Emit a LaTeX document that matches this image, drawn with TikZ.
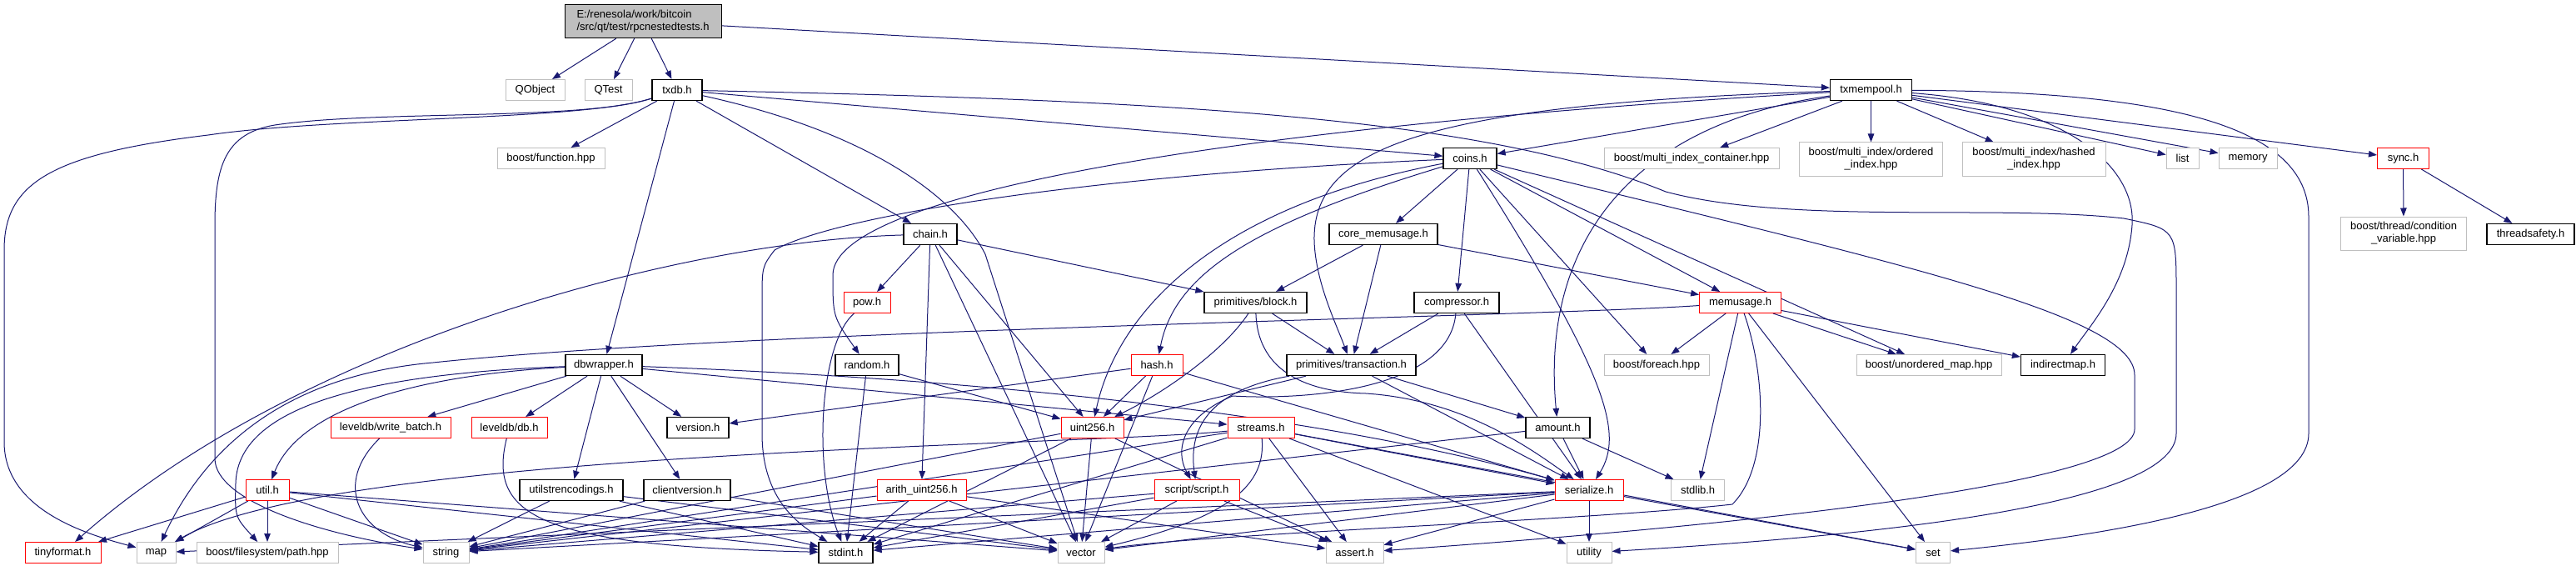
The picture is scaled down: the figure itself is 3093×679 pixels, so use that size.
\documentclass[tikz,border=0pt]{standalone}
\usepackage{fontspec}
\setmainfont{Liberation Sans}
\usepackage{tikz}
\usetikzlibrary{arrows.meta, backgrounds}
\definecolor{edgeblue}{RGB}{25,25,112}
\definecolor{extgray}{RGB}{191,191,191}

\begin{document}
\begin{tikzpicture}[x=1pt, y=-1pt,
  box/.style={rectangle, fill=white, inner sep=0pt, minimum height=25pt, font=\fontsize{13}{15}\selectfont},
  doc/.style={box, draw=black, line width=1.3pt, minimum width=#1pt},
  ext/.style={box, draw=extgray, line width=1pt, minimum width=#1pt},
  trunc/.style={box, draw=red, line width=1pt, minimum width=#1pt},
  twoline/.style={minimum height=40pt, align=center},
  inc/.style={color=edgeblue, line width=1pt, -{Triangle[length=10pt, width=7.5pt]}}]
\useasboundingbox (0,0) rectangle (3093,679);

% File at the top
\node[doc=188, fill=extgray, line width=1pt, minimum height=40pt, align=left] (root) at (772,25.7)
  {E:/renesola/work/bitcoin\\/src/qt/test/rpcnestedtests.h};
% Row 1
\node[ext=71] (qobject) at (642.5,108) {QObject};
\node[ext=57] (qtest) at (730.5,108) {QTest};
\node[doc=60] (txdb) at (813,108) {txdb.h};
\node[doc=98] (txmempool) at (2246.5,108) {txmempool.h};
% Row 2
\node[ext=129] (boostfunction) at (661.5,190) {boost/function.hpp};
\node[doc=64] (coins) at (1765,190) {coins.h};
\node[ext=210] (multiindex) at (2031,190) {boost/multi\_index\_container.hpp};
\node[ext=172, twoline] (orderedindex) at (2246.5,191) {boost/multi\_index/ordered\\\_index.hpp};
\node[ext=172, twoline] (hashedindex) at (2442,191) {boost/multi\_index/hashed\\\_index.hpp};
\node[ext=39] (list) at (2620.6,190) {list};
\node[ext=70] (memory) at (2699,190) {memory};
\node[trunc=62] (sync) at (2885.5,190) {sync.h};
% Row 3
\node[doc=64] (chain) at (1117,281) {chain.h};
\node[doc=130] (corememusage) at (1661,281) {core\_memusage.h};
\node[ext=151, twoline] (condvar) at (2886,280) {boost/thread/condition\\\_variable.hpp};
\node[doc=105] (threadsafety) at (3038.5,281) {threadsafety.h};
% Row 4
\node[trunc=56] (pow) at (1041,363) {pow.h};
\node[doc=123] (block) at (1507.5,363) {primitives/block.h};
\node[doc=102] (compressor) at (1749,363) {compressor.h};
\node[trunc=98] (memusage) at (2089.6,363) {memusage.h};
% Row 5
\node[doc=92] (dbwrapper) at (725,438) {dbwrapper.h};
\node[doc=76] (random) at (1041,438) {random.h};
\node[trunc=62] (hash) at (1389,438) {hash.h};
\node[doc=155] (transaction) at (1622.5,438) {primitives/transaction.h};
\node[ext=126] (foreach) at (1989,438) {boost/foreach.hpp};
\node[ext=174] (unorderedmap) at (2316,438) {boost/unordered\_map.hpp};
\node[doc=101] (indirectmap) at (2477,438) {indirectmap.h};
% Row 6
\node[trunc=144] (writebatch) at (469,513) {leveldb/write\_batch.h};
\node[trunc=91] (leveldb) at (611.5,513) {leveldb/db.h};
\node[doc=74] (version) at (838,513) {version.h};
\node[trunc=75] (uint) at (1311.5,513) {uint256.h};
\node[trunc=80] (streams) at (1514,513) {streams.h};
\node[doc=77] (amount) at (1870.5,513) {amount.h};
% Row 7
\node[trunc=52] (util) at (321,588) {util.h};
\node[doc=124] (utilstr) at (686,588) {utilstrencodings.h};
\node[doc=104] (clientversion) at (825,588) {clientversion.h};
\node[trunc=107] (arith) at (1106.5,588) {arith\_uint256.h};
\node[trunc=102] (script) at (1437,588) {script/script.h};
\node[trunc=82] (serialize) at (1908,588) {serialize.h};
\node[ext=64] (stdlib) at (2038.6,588) {stdlib.h};
% Row 8 (system headers)
\node[trunc=91] (tinyformat) at (75.5,663) {tinyformat.h};
\node[ext=47] (map) at (187.5,663) {map};
\node[ext=170] (path) at (321,663) {boost/filesystem/path.hpp};
\node[ext=55] (string) at (535.5,663) {string};
\node[doc=65] (stdint) at (1015.5,663) {stdint.h};
\node[ext=56] (vector) at (1298,663) {vector};
\node[ext=69] (assert) at (1626.5,663) {assert.h};
\node[ext=54] (utility) at (1908,663) {utility};
\node[ext=41] (set) at (2321,663) {set};

\begin{scope}[on background layer]
% Straight includes
\foreach \a/\b in {root/qobject, root/qtest, root/txdb, root/txmempool,
    txdb/boostfunction, txdb/dbwrapper, txdb/chain, txdb/coins,
    txmempool/coins, txmempool/multiindex, txmempool/orderedindex, txmempool/hashedindex,
    txmempool/list, txmempool/memory, txmempool/sync,
    sync/condvar, sync/threadsafety,
    coins/corememusage, coins/compressor, coins/memusage, coins/foreach, coins/unorderedmap,
    chain/pow, chain/block, chain/uint, chain/arith, chain/vector,
    corememusage/block, corememusage/transaction, corememusage/memusage,
    compressor/transaction, compressor/serialize,
    memusage/foreach, memusage/unorderedmap, memusage/indirectmap, memusage/stdlib, memusage/set,
    block/transaction,
    dbwrapper/writebatch, dbwrapper/leveldb, dbwrapper/version, dbwrapper/utilstr,
    dbwrapper/clientversion, dbwrapper/streams,
    random/uint, random/stdint,
    hash/uint, hash/version, hash/serialize, hash/vector,
    transaction/uint, transaction/amount, transaction/serialize,
    uint/stdint, uint/vector, uint/string, uint/assert,
    streams/serialize, streams/assert, streams/stdint, streams/string, streams/utility, streams/set,
    amount/serialize, amount/stdlib, amount/string,
    util/tinyformat, util/map, util/path, util/string, util/stdint, util/vector,
    utilstr/string, utilstr/stdint, utilstr/vector,
    clientversion/string, clientversion/vector,
    arith/stdint, arith/vector, arith/string, arith/assert,
    script/string, script/stdint, script/vector, script/assert,
    serialize/map, serialize/string, serialize/stdint, serialize/vector,
    serialize/assert, serialize/utility, serialize/set}
  \draw[inc] (\a) -- (\b);
% Routed includes
\draw[inc] (txdb) .. controls (700,145) and (400,140) .. (250,162) .. controls (60,185) and (5,220) .. (5,300)
  -- (5,530) .. controls (5,610) and (100,640) .. (map);
\draw[inc] (txdb) .. controls (700,145) and (450,132) .. (330,150) .. controls (270,160) and (258,200) .. (258,270)
  -- (258,550) .. controls (258,600) and (380,640) .. (string);
\draw[inc] (txdb) .. controls (1050,160) and (1150,240) .. (1183,305) -- (vector);
\draw[inc] (txdb) .. controls (1400,120) and (1780,140) .. (2000,230) .. controls (2150,270) and (2400,245) .. (2550,262)
  .. controls (2613,275) .. (2613,350) -- (2613,520) .. controls (2613,600) and (2300,640) .. (utility);
\draw[inc] (txmempool) .. controls (1500,150) and (1000,230) .. (1000,330) .. controls (1000,380) .. (random);
\draw[inc] (txmempool) .. controls (1700,125) and (1575,180) .. (1578,290) .. controls (1580,340) and (1605,390) .. (transaction);
\draw[inc] (txmempool) .. controls (1950,150) and (1850,300) .. (amount);
\draw[inc] (txmempool) .. controls (2480,125) and (2565,200) .. (2560,270) .. controls (2555,340) and (2510,390) .. (indirectmap);
\draw[inc] (txmempool) .. controls (2600,110) and (2772,150) .. (2772,260) -- (2772,520) .. controls (2772,610) and (2500,645) .. (set);
\draw[inc] (coins) .. controls (1300,210) and (1000,260) .. (930,300) .. controls (915,320) .. (915,360) -- (915,520)
  .. controls (915,600) and (960,630) .. (stdint);
\draw[inc] (coins) .. controls (1500,270) and (1410,330) .. (hash);
\draw[inc] (coins) .. controls (1450,250) and (1340,380) .. (uint);
\draw[inc] (coins) .. controls (1930,450) and (1950,520) .. (serialize);
\draw[inc] (coins) .. controls (2300,320) and (2563,380) .. (2563,450) -- (2563,515) .. controls (2563,580) and (2100,630) .. (assert);
\draw[inc] (chain) .. controls (800,290) and (350,420) .. (tinyformat);
\draw[inc] (pow) .. controls (985,410) and (975,560) .. (stdint);
\draw[inc] (memusage) .. controls (1850,380) and (900,395) .. (520,435) .. controls (350,450) and (250,530) .. (map);
\draw[inc] (memusage) .. controls (2120,450) and (2125,560) .. (2080,605) .. controls (1900,625) and (1450,640) .. (vector);
\draw[inc] (block) .. controls (1470,420) and (1400,470) .. (uint);
\draw[inc] (block) .. controls (1510,440) and (1560,470) .. (1640,472) .. controls (1760,480) and (1840,540) .. (serialize);
\draw[inc] (compressor) .. controls (1740,470) and (1560,480) .. (1480,475) .. controls (1420,500) and (1410,540) .. (script);
\draw[inc] (transaction) .. controls (1470,465) and (1425,500) .. (script);
\draw[inc] (dbwrapper) .. controls (500,450) and (360,490) .. (util);
\draw[inc] (dbwrapper) .. controls (400,450) and (285,500) .. (283,580) .. controls (282,620) .. (path);
\draw[inc] (dbwrapper) .. controls (1200,455) and (1600,500) .. (serialize);
\draw[inc] (writebatch) .. controls (400,580) and (430,640) .. (string);
\draw[inc] (leveldb) .. controls (585,620) and (650,655) .. (stdint);
\draw[inc] (streams) .. controls (1300,535) and (400,540) .. (map);
\draw[inc] (streams) .. controls (1520,580) and (1480,620) .. (vector);
\end{scope}
\end{tikzpicture}
\end{document}
